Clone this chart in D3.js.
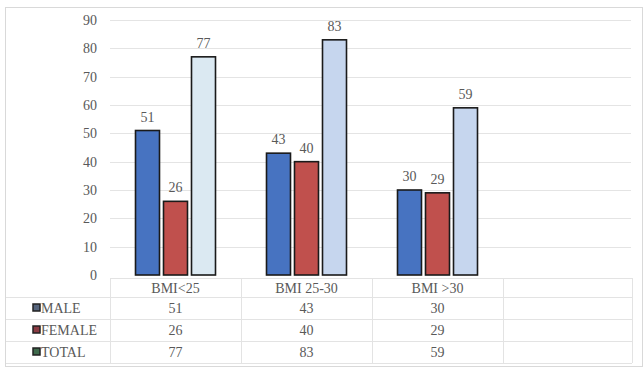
<!DOCTYPE html>
<html>
<head>
<meta charset="utf-8">
<script src="https://cdn.jsdelivr.net/npm/d3@7/dist/d3.min.js"></script>
<style>
  html, body { margin: 0; padding: 0; background: #ffffff; }
  svg { display: block; }
</style>
</head>
<body>
<svg id="chart" width="644" height="370"></svg>
<script>
// BMI groups (the fourth table column is left blank)
const categories = ["BMI<25", "BMI 25-30", "BMI >30", ""];
const seriesNames = ["MALE", "FEMALE", "TOTAL"];
const male   = [51, 43, 30];
const female = [26, 40, 29];
const total  = [77, 83, 59];
const yTicks = [0, 10, 20, 30, 40, 50, 60, 70, 80, 90];

const seriesValues = [male, female, total];
const barFill = [
  ["#4773c1", "#4773c1", "#4773c1"],
  ["#c0504d", "#c0504d", "#c0504d"],
  ["#dbe9f2", "#c6d6ee", "#c6d6ee"]
];
const keyFill = ["#55647c", "#8a3b43", "#3f6a4c"];

const FONT = "Liberation Serif";
const TEXT = "#595959";
const FS = 14;

const W = 644, H = 370;
const svg = d3.select("#chart");

// outer chart frame
svg.append("rect")
  .attr("x", 5.5).attr("y", 7.5).attr("width", W - 7).attr("height", H - 11)
  .attr("fill", "#fff").attr("stroke", "#d9d9d9");

const x = d3.scaleBand().domain(categories).range([110, 634]);
const y = d3.scaleLinear().domain([0, 90]).range([275, 20]);
const xs = d3.scaleBand().domain(seriesNames).range([-40, 40]).paddingInner(4 / 28);

// horizontal gridlines
svg.append("g").selectAll("line").data(yTicks.filter(d => d > 0)).join("line")
  .attr("x1", 110).attr("x2", 631)
  .attr("y1", d => Math.round(y(d)) + 0.5).attr("y2", d => Math.round(y(d)) + 0.5)
  .attr("stroke", "#e4e4e4").attr("stroke-width", 1);

// y axis labels
const yAxis = d3.axisLeft(y).tickValues(yTicks).tickSize(0).tickPadding(0);
const gy = svg.append("g").attr("transform", "translate(97,0)").call(yAxis);
gy.attr("font-family", null).attr("font-size", null);
gy.select(".domain").remove();
gy.selectAll("text").attr("fill", TEXT)
  .style("font-family", FONT).style("font-size", FS + "px");

function label(g) {
  return g.append("text").style("font-family", FONT)
    .style("font-size", FS + "px").attr("fill", TEXT);
}

// bars
const bars = svg.append("g");
seriesNames.forEach((s, si) => {
  categories.slice(0, 3).forEach((c, ci) => {
    const v = seriesValues[si][ci];
    const cx = x(c) + x.bandwidth() / 2;
    const bx = cx + xs(s);
    bars.append("rect")
      .attr("x", bx).attr("y", y(v))
      .attr("width", xs.bandwidth()).attr("height", y(0) - y(v))
      .attr("fill", barFill[si][ci])
      .attr("stroke", "#1a1a1a").attr("stroke-width", 1.6);
    label(bars)
      .attr("x", bx + xs.bandwidth() / 2).attr("y", y(v) - 9)
      .attr("text-anchor", "middle")
      .text(v);
  });
});

// data table below the axis
const tableTop = 278, headerH = 19, rowH = 22;
const colEdges = [110, 241, 372, 503, 632];
const tbl = svg.append("g");
const lineColor = "#e3e3e3";

// horizontal rules
const rowLines = [tableTop, tableTop + headerH, tableTop + headerH + rowH,
                  tableTop + headerH + 2 * rowH, tableTop + headerH + 3 * rowH];
rowLines.forEach((ry, i) => {
  tbl.append("line")
    .attr("x1", i === 0 ? 110 : 6).attr("x2", 632)
    .attr("y1", ry + 0.5).attr("y2", ry + 0.5)
    .attr("stroke", lineColor);
});
// vertical rules
colEdges.forEach(cx => {
  tbl.append("line")
    .attr("x1", cx + 0.5).attr("x2", cx + 0.5)
    .attr("y1", tableTop).attr("y2", rowLines[4])
    .attr("stroke", lineColor);
});

// header row: category names
categories.forEach(c => {
  label(tbl)
    .attr("x", x(c) + x.bandwidth() / 2)
    .attr("y", tableTop + headerH / 2 + 5)
    .attr("text-anchor", "middle")
    .text(c);
});

// series rows with legend keys
seriesNames.forEach((s, si) => {
  const rowMid = tableTop + headerH + si * rowH + rowH / 2;
  tbl.append("rect")
    .attr("x", 33).attr("y", rowMid - 4)
    .attr("width", 7).attr("height", 7)
    .attr("fill", keyFill[si]).attr("stroke", "#222").attr("stroke-width", 1.5);
  label(tbl)
    .attr("x", 41).attr("y", rowMid + 5)
    .text(s);
  seriesValues[si].forEach((v, ci) => {
    label(tbl)
      .attr("x", x(categories[ci]) + x.bandwidth() / 2)
      .attr("y", rowMid + 5)
      .attr("text-anchor", "middle")
      .text(v);
  });
});
</script>
</body>
</html>
